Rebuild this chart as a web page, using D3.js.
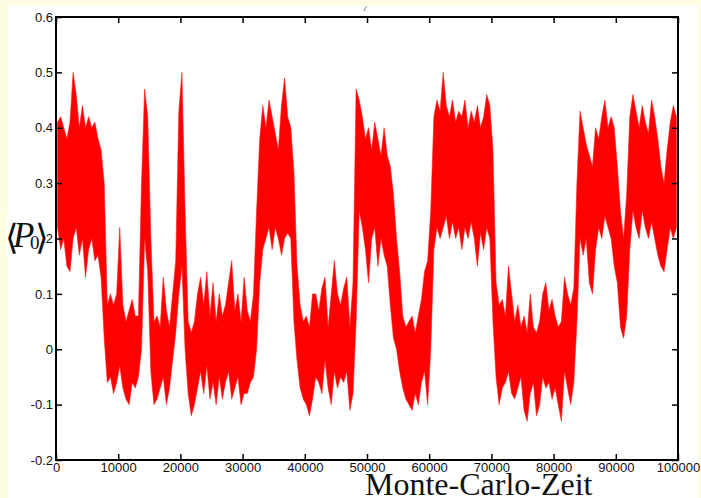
<!DOCTYPE html>
<html><head><meta charset="utf-8">
<script src="https://cdn.jsdelivr.net/npm/d3@7"></script>
<style>body{margin:0;background:#fffde1;overflow:hidden} svg{display:block}</style>
</head><body><svg id="c" width="701" height="498"></svg>
<script>
const mcTime = [0,500,1000,1500,2000,2500,3000,3500,4000,4500,5000,5500,6000,6500,7000,7500,8000,8500,9000,9500,
10000,10500,11000,11500,12000,12500,13000,13500,14000,14500,15000,15500,16000,16500,17000,17500,18000,18500,19000,19500,
20000,20500,21000,21500,22000,22500,23000,23500,24000,24500,25000,25500,26000,26500,27000,27500,28000,28500,29000,29500,
30000,30500,31000,31500,32000,32500,33000,33500,34000,34500,35000,35500,36000,36500,37000,37500,38000,38500,39000,39500,
40000,40500,41000,41500,42000,42500,43000,43500,44000,44500,45000,45500,46000,46500,47000,47500,48000,48500,49000,49500,
50000,50500,51000,51500,52000,52500,53000,53500,54000,54500,55000,55500,56000,56500,57000,57500,58000,58500,59000,59500,
60000,60500,61000,61500,62000,62500,63000,63500,64000,64500,65000,65500,66000,66500,67000,67500,68000,68500,69000,69500,
70000,70500,71000,71500,72000,72500,73000,73500,74000,74500,75000,75500,76000,76500,77000,77500,78000,78500,79000,79500,
80000,80500,81000,81500,82000,82500,83000,83500,84000,84500,85000,85500,86000,86500,87000,87500,88000,88500,89000,89500,
90000,90500,91000,91500,92000,92500,93000,93500,94000,94500,95000,95500,96000,96500,97000,97500,98000,98500,99000,99500];
const pLow = [0.22,0.18,0.2,0.15,0.14,0.2,0.22,0.17,0.2,0.13,0.18,0.2,0.16,0.17,0.13,
0.02,-0.06,-0.05,-0.08,-0.06,-0.03,-0.07,-0.09,-0.1,-0.06,-0.07,-0.05,0.0,0.2,0.14,
-0.04,-0.1,-0.09,-0.07,-0.05,-0.1,-0.07,-0.02,0.03,0.1,0.15,0.0,-0.08,-0.12,-0.1,
-0.07,-0.04,-0.08,-0.03,-0.09,-0.06,-0.1,-0.05,-0.09,-0.06,-0.04,-0.09,-0.07,-0.05,-0.1,
-0.08,-0.08,-0.06,-0.05,0.0,0.12,0.18,0.2,0.22,0.18,0.22,0.2,0.17,0.2,0.21,
0.2,0.05,-0.02,-0.07,-0.09,-0.1,-0.12,-0.09,-0.05,-0.06,-0.08,-0.02,-0.07,-0.1,-0.04,
-0.07,-0.05,-0.06,-0.04,-0.11,-0.08,0.05,0.25,0.22,0.18,0.12,0.2,0.22,0.15,0.2,
0.17,0.15,0.08,0.02,0.0,-0.04,-0.07,-0.09,-0.1,-0.11,-0.08,-0.1,-0.06,-0.04,-0.1,
0.0,0.18,0.22,0.2,0.22,0.24,0.2,0.23,0.2,0.22,0.18,0.22,0.2,0.23,0.2,
0.15,0.21,0.18,0.22,0.2,0.05,-0.05,-0.1,-0.07,-0.06,-0.04,-0.08,-0.09,-0.07,-0.05,
-0.11,-0.13,-0.08,-0.06,-0.12,-0.1,-0.05,-0.07,-0.06,-0.09,-0.07,-0.1,-0.13,-0.04,-0.07,
-0.1,-0.06,0.05,0.2,0.17,0.2,0.12,0.1,0.18,0.22,0.2,0.24,0.22,0.2,0.15,
0.12,0.04,0.02,0.06,0.18,0.25,0.22,0.2,0.25,0.22,0.2,0.23,0.2,0.17,0.15,0.14,0.18,0.22,0.2,0.22];
const pHigh = [0.41,0.42,0.40,0.38,0.41,0.50,0.46,0.40,0.44,0.40,0.42,0.40,0.41,0.38,0.36,
0.3,0.08,0.10,0.08,0.10,0.22,0.08,0.05,0.07,0.09,0.06,0.06,0.30,0.47,0.42,
0.2,0.05,0.06,0.04,0.13,0.07,0.04,0.10,0.16,0.43,0.5,0.25,0.05,0.03,0.05,
0.1,0.13,0.08,0.14,0.06,0.12,0.05,0.1,0.06,0.08,0.12,0.16,0.07,0.1,0.05,
0.13,0.07,0.05,0.1,0.25,0.38,0.44,0.40,0.45,0.42,0.39,0.36,0.44,0.49,0.42,
0.40,0.32,0.15,0.08,0.05,0.06,0.04,0.1,0.1,0.07,0.11,0.13,0.04,0.1,0.16,
0.1,0.08,0.11,0.13,0.04,0.12,0.47,0.45,0.42,0.38,0.40,0.36,0.41,0.38,0.35,
0.4,0.35,0.33,0.28,0.2,0.14,0.06,0.04,0.05,0.06,0.03,0.06,0.09,0.14,0.16,
0.25,0.42,0.45,0.43,0.5,0.44,0.42,0.45,0.41,0.43,0.42,0.45,0.40,0.43,0.41,
0.44,0.40,0.42,0.46,0.44,0.36,0.12,0.08,0.09,0.06,0.15,0.1,0.05,0.08,0.04,
0.06,0.03,0.1,0.04,0.03,0.05,0.1,0.12,0.07,0.09,0.06,0.04,0.05,0.13,0.1,
0.08,0.11,0.3,0.43,0.4,0.37,0.35,0.33,0.40,0.38,0.42,0.45,0.4,0.42,0.40,
0.33,0.25,0.2,0.28,0.42,0.46,0.43,0.40,0.44,0.41,0.39,0.45,0.42,0.38,0.33,0.30,0.36,0.41,0.44,0.42];
const sampleSpan = 500;
const xTicks = [0,10000,20000,30000,40000,50000,60000,70000,80000,90000,100000];
const yTicks = [-0.2,-0.1,0,0.1,0.2,0.3,0.4,0.5,0.6];
const xTitle = "Monte-Carlo-Zeit";

const svg = d3.select("#c");
svg.append("rect").attr("width",701).attr("height",498).attr("fill","#fffde1");
svg.append("rect").attr("x",8).attr("y",5).attr("width",690).attr("height",493).attr("fill","#ffffff");

const x = d3.scaleLinear().domain([0,100000]).range([56,678]);
const y = d3.scaleLinear().domain([-0.2,0.6]).range([460,17]);

const band = d3.area()
  .x(d => x(d + sampleSpan / 2))
  .y0((d,i) => y(pLow[i]))
  .y1((d,i) => y(pHigh[i]))
  .curve(d3.curveLinear);
svg.append("path").datum(mcTime).attr("d", band)
  .attr("fill", "#ff0000").attr("stroke", "#ff1a1a").attr("stroke-width", 0.6);

const fmtY = d => String(+(+d).toFixed(1));
const font = "'Liberation Sans', Arial, Helvetica, sans-serif";

function styleAxis(g){
  g.select(".domain").remove();
  g.selectAll(".tick line").attr("stroke","#000").attr("stroke-width",1.5);
  g.selectAll(".tick text").attr("fill","#111").style("font-family",font).style("font-size","13px");
}
svg.append("g").attr("transform","translate(0,460)")
  .call(d3.axisBottom(x).tickValues(xTicks).tickFormat(d3.format("d")).tickSizeInner(-6).tickSizeOuter(0).tickPadding(3))
  .call(styleAxis);
svg.append("g").attr("transform","translate(0,17)")
  .call(d3.axisTop(x).tickValues(xTicks).tickFormat("").tickSizeInner(-6).tickSizeOuter(0))
  .call(styleAxis);
svg.append("g").attr("transform","translate(56,0)")
  .call(d3.axisLeft(y).tickValues(yTicks).tickFormat(fmtY).tickSizeInner(-6).tickSizeOuter(0).tickPadding(3))
  .call(styleAxis);
svg.append("g").attr("transform","translate(678,0)")
  .call(d3.axisRight(y).tickValues(yTicks).tickFormat("").tickSizeInner(-6).tickSizeOuter(0))
  .call(styleAxis);

svg.append("rect").attr("x",56).attr("y",17).attr("width",622).attr("height",443)
  .attr("fill","none").attr("stroke","#000").attr("stroke-width",2);

// y-axis title (covers the "0." of the 0.2 tick label, as in the original)
svg.append("rect").attr("x",6).attr("y",214).attr("width",38).attr("height",42).attr("fill","#fff");
const serif = "'Liberation Serif','DejaVu Serif','Times New Roman',serif";
const yg = svg.append("g").style("font-family",serif).attr("fill","#111");
yg.append("text").attr("x",5).attr("y",249).style("font-size","35px").text("\u27E8");
yg.append("text").attr("x",13).attr("y",247).style("font-size","35px").style("font-style","italic").text("P");
yg.append("text").attr("x",30).attr("y",249).style("font-size","19px").text("0");
yg.append("text").attr("x",35).attr("y",249).style("font-size","35px").text("\u27E9");

// x-axis title
svg.append("text").attr("x",365).attr("y",495)
  .style("font-family",serif).style("font-size","32px").attr("fill","#111")
  .text(xTitle);

svg.append("text").attr("x",364).attr("y",11)
  .style("font-family",font).style("font-size","8px").style("font-style","italic").attr("fill","#333").text("/");
</script></body></html>
